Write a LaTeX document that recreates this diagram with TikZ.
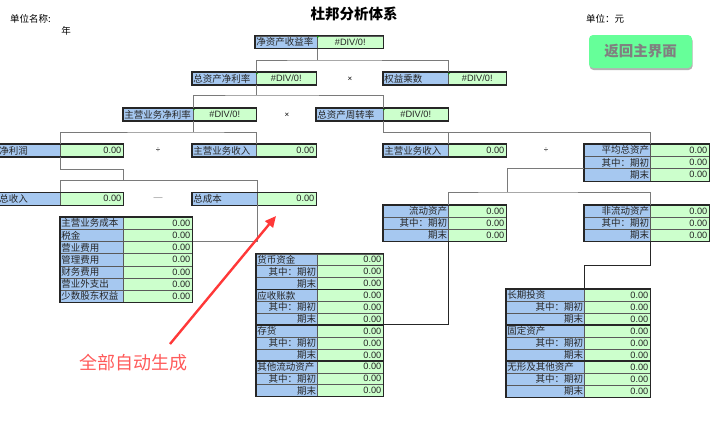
\documentclass[tikz,border=0pt]{standalone}
\usepackage{fontspec}
\setmainfont{Liberation Sans}
\newfontfamily\cjk{Noto Sans CJK SC}
\usetikzlibrary{arrows.meta,shadows}
\definecolor{labblue}{HTML}{A6C8F0}
\definecolor{valgreen}{HTML}{CCFFCC}
\definecolor{btngreen}{HTML}{66FF99}
\definecolor{btntext}{HTML}{808080}
\definecolor{linegray}{HTML}{7A7A7A}
\definecolor{redtxt}{HTML}{FF5A5A}
\definecolor{redarr}{HTML}{FF3838}
\definecolor{errgreen}{HTML}{1E8C1E}
\tikzset{
 cellbase/.style={draw=black!65, line width=0.5pt, inner sep=0pt, rectangle},
 lab/.style={cellbase, fill=labblue},
 val/.style={cellbase, fill=valgreen},
 labtxt/.style={font=\cjk\fontsize{9.5}{10}\selectfont, inner xsep=1.2pt, inner ysep=0pt, text=black!85},
 valtxt/.style={font=\fontsize{9.2}{10}\selectfont, inner xsep=2pt, inner ysep=0pt, text=black!85},
 outer/.style={draw=black!85, line width=1.1pt},
 conn/.style={draw=linegray, line width=0.8pt},
 conndark/.style={draw=black!85, line width=0.9pt},
 optxt/.style={font=\fontsize{8}{9}\selectfont, inner sep=0pt},
 hdtxt/.style={font=\cjk\fontsize{9.5}{10}\selectfont, inner sep=0pt},
 btn/.style={rectangle, rounded corners=4pt, fill=btngreen, text=btntext,
   font=\cjk\bfseries\fontsize{14.5}{16}\selectfont, minimum width=103pt, minimum height=33pt,
   drop shadow={shadow xshift=0.6pt, shadow yshift=-2pt, opacity=0.3, fill=black}},
 redarrow/.style={draw=redarr, line width=2.4pt, -{Triangle[length=11pt,width=10pt]}},
}
% one row: name, x1, xm, x2, ytop, height, label, value, label anchor
\newcommand\cellrow[9]{%
  \pgfmathsetmacro\wa{#3-#2}%
  \pgfmathsetmacro\wb{#4-#3}%
  \node[lab, minimum width=\wa pt, minimum height=#6pt, anchor=north west] (#1-l) at (#2,#5) {};
  \node[val, minimum width=\wb pt, minimum height=#6pt, anchor=north west] (#1-v) at (#3,#5) {};
  \node[labtxt, anchor=#9] (#1-lt) at (#1-l.#9) {#7};
  \node[valtxt, anchor=east] (#1-vt) at (#1-v.east) {#8};
}
% ratio row: name, x1, xm, x2, ytop, label
\newcommand\divrow[6]{%
  \pgfmathsetmacro\wa{#3-#2}%
  \pgfmathsetmacro\wb{#4-#3}%
  \node[lab, minimum width=\wa pt, minimum height=12.5pt, anchor=north west] (#1-l) at (#2,#5) {};
  \node[val, minimum width=\wb pt, minimum height=12.5pt, anchor=north west] (#1-v) at (#3,#5) {};
  \node[labtxt, anchor=west] (#1-lt) at (#1-l.west) {#6};
  \node[valtxt] (#1-vt) at (#1-v.center) {\#DIV/0!};
  \fill[errgreen] (#1-v.north west) -- ++(3,0) -- ++(-3,3) -- cycle;
  \draw[outer] (#1-l.north west) rectangle (#1-v.south east);
}
\begin{document}
\begin{tikzpicture}[x=1pt,y=-1pt]
\useasboundingbox (0,0) rectangle (720,442);

% headings
\node[font=\cjk\bfseries\fontsize{14.5}{16}\selectfont, inner sep=0pt] (title) at (354,13.5) {杜邦分析体系};
\node[hdtxt, anchor=west] (unitname) at (10,19) {单位名称:};
\node[hdtxt] (year) at (66,30.5) {年};
\node[hdtxt, anchor=west] (unit) at (586,19) {单位：元};
\node[btn] (back) at (640.5,51.5) {返回主界面};

% ratio rows
\divrow{roe}{255}{317}{383}{35.5}{净资产收益率}
\divrow{roa}{192}{256}{316}{72}{总资产净利率}
\divrow{em}{383}{448}{506}{72}{权益乘数}
\divrow{npm}{123}{193}{256}{108}{主营业务净利率}
\divrow{tat}{316}{383}{448}{108}{总资产周转率}

% single value rows
\cellrow{np}{-2}{60}{123}{144}{12.5}{净利润}{0.00}{west}
\draw[outer] (np-l.north west) rectangle (np-v.south east);
\cellrow{rev1}{192}{256}{316}{144}{12.5}{主营业务收入}{0.00}{west}
\draw[outer] (rev1-l.north west) rectangle (rev1-v.south east);
\cellrow{rev2}{383}{448}{506}{144}{12.5}{主营业务收入}{0.00}{west}
\draw[outer] (rev2-l.north west) rectangle (rev2-v.south east);
\cellrow{trev}{-2}{60}{123}{192.3}{12.5}{总收入}{0.00}{west}
\draw[outer] (trev-l.north west) rectangle (trev-v.south east);
\cellrow{tc}{192}{257}{316}{192.3}{12.5}{总成本}{0.00}{west}
\draw[outer] (tc-l.north west) rectangle (tc-v.south east);

% cost table
\foreach \t [count=\i from 0] in {主营业务成本,税金,营业费用,管理费用,财务费用,营业外支出,少数股东权益}{
  \pgfmathsetmacro\yy{217+\i*12.14}
  \cellrow{c\i}{60}{123}{192}{\yy}{12.14}{\t}{0.00}{west}
}
\draw[outer] (c0-l.north west) rectangle (c6-v.south east);

% average total assets
\foreach \t [count=\i from 0] in {平均总资产,其中：期初,期末}{
  \pgfmathsetmacro\yy{144+\i*12.2}
  \cellrow{avg\i}{584}{650}{709}{\yy}{12.2}{\t}{0.00}{east}
}
\draw[outer] (avg0-l.north west) rectangle (avg2-v.south east);

% current / non-current assets
\foreach \t [count=\i from 0] in {流动资产,其中：期初,期末}{
  \pgfmathsetmacro\yy{205+\i*12}
  \cellrow{ca\i}{383}{448}{506}{\yy}{12}{\t}{0.00}{east}
}
\draw[outer] (ca0-l.north west) rectangle (ca2-v.south east);
\foreach \t [count=\i from 0] in {非流动资产,其中：期初,期末}{
  \pgfmathsetmacro\yy{205+\i*12}
  \cellrow{nc\i}{584}{650}{709}{\yy}{12}{\t}{0.00}{east}
}
\draw[outer] (nc0-l.north west) rectangle (nc2-v.south east);

% current asset detail
\foreach \t/\a [count=\i from 0] in {货币资金/west,其中：期初/east,期末/east,应收账款/west,其中：期初/east,期末/east,存货/west,其中：期初/east,期末/east,其他流动资产/west,其中：期初/east,期末/east}{
  \pgfmathsetmacro\yy{253.5+\i*11.9}
  \cellrow{m\i}{256}{317}{383}{\yy}{11.9}{\t}{0.00}{\a}
}
\draw[outer] (m0-l.north west) rectangle (m2-v.south east);
\draw[outer] (m3-l.north west) rectangle (m5-v.south east);
\draw[outer] (m6-l.north west) rectangle (m8-v.south east);
\draw[outer] (m9-l.north west) rectangle (m11-v.south east);

% non-current asset detail
\foreach \t/\a [count=\i from 0] in {长期投资/west,其中：期初/east,期末/east,固定资产/west,其中：期初/east,期末/east,无形及其他资产/west,其中：期初/east,期末/east}{
  \pgfmathsetmacro\yy{289+\i*12}
  \cellrow{lt\i}{506}{584}{650}{\yy}{12}{\t}{0.00}{\a}
}
\draw[outer] (lt0-l.north west) rectangle (lt2-v.south east);
\draw[outer] (lt3-l.north west) rectangle (lt5-v.south east);
\draw[outer] (lt6-l.north west) rectangle (lt8-v.south east);

% operators
\node[optxt] (op1) at (350,79) {×};
\node[optxt] (op2) at (287,115) {×};
\node[optxt] (op3) at (158,150.5) {÷};
\node[optxt] (op4) at (546,150.5) {÷};
\node[optxt, text=black!45, font=\fontsize{9}{9}\selectfont] (op5) at (158,199) {—};

% connectors
\coordinate (jA) at (317,60);
\draw[conn] (roe-v.south west) -- (jA);
\draw[conn] (roa-v.north west) |- (jA) -| (em-v.north west);
\coordinate (jB) at (256,95);
\draw[conn] (roa-v.south west) -- (jB);
\draw[conn] (npm-v.north west) |- (jB) -| (tat-v.north west);
\coordinate (jC) at (193,132);
\draw[conn] (npm-v.south west) -- (jC);
\draw[conn] (np-v.north west) |- (jC) -| (rev1-v.north west);
\coordinate (jD) at (383,132);
\draw[conn] (tat-v.south west) -- (jD) -| (avg0-v.north west);
\draw[conn] (rev2-v.north west) |- (jD);
\coordinate (jE) at (123,180.5);
\draw[conn] (np-v.south west) -- ++(0,12) -| (jE);
\draw[conn] (trev-v.north west) |- (jE) -| (tc-v.north west);
\draw[conn] (tc-v.south west) |- (c1-v.south east);
\coordinate (jG) at (507,192);
\draw[conn] (avg2-l.north west) -| (jG);
\draw[conn] (ca0-v.north west) |- (jG) -| (nc0-v.north west);
\draw[conndark] (ca2-v.south west) |- (m6-v.north east);
\coordinate (jI) at (650,265);
\draw[conndark] (nc2-v.south west) -- (jI) -| (lt0-v.north west);

% annotation
\node[font=\cjk\fontsize{18}{19}\selectfont, text=redtxt, inner sep=0pt] (auto) at (133,363) {全部自动生成};
\coordinate (arS) at (170,344);
\coordinate (arE) at (276,216);
\draw[redarrow] (arS) -- (arE);
\end{tikzpicture}
\end{document}
